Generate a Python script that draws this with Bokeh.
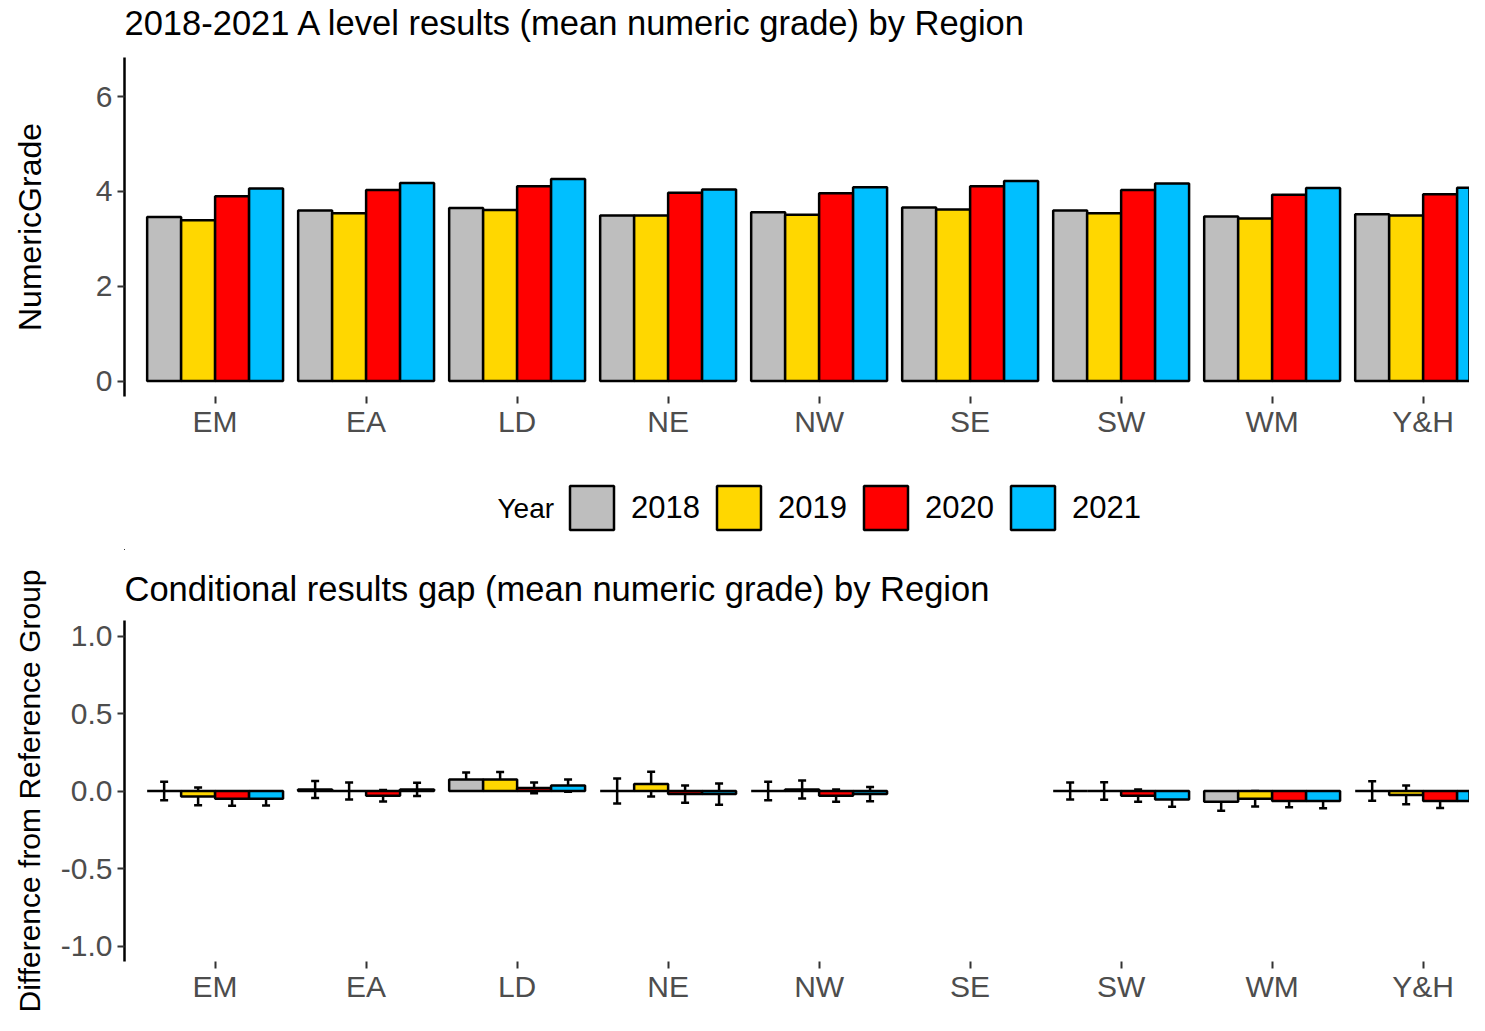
import math
from bokeh.plotting import figure
from bokeh.models import (ColumnDataSource, Range1d, FixedTicker, NumeralTickFormatter,
                          Whisker, TeeHead, Legend, LegendItem)
from bokeh.core.properties import value
from bokeh.layouts import column
from bokeh.embed import file_html
from bokeh.resources import INLINE

# ---------------- data ----------------
regions = ["EM", "EA", "LD", "NE", "NW", "SE", "SW", "WM", "Y&H"]
years = ["2018", "2019", "2020", "2021"]
colors = ["#BEBEBE", "#FFD700", "#FF0000", "#00BFFF"]

grade_2018 = [3.46, 3.60, 3.65, 3.49, 3.56, 3.66, 3.60, 3.47, 3.52]
grade_2019 = [3.39, 3.54, 3.61, 3.49, 3.51, 3.62, 3.54, 3.43, 3.49]
grade_2020 = [3.90, 4.03, 4.11, 3.97, 3.96, 4.11, 4.03, 3.93, 3.94]
grade_2021 = [4.06, 4.18, 4.26, 4.04, 4.09, 4.22, 4.17, 4.07, 4.08]

nan = float("nan")
gap_2018 = [0.00, 0.01, 0.075, 0.00, 0.00, nan, 0.00, -0.07, 0.00]
gap_2019 = [-0.035, 0.00, 0.075, 0.045, 0.01, nan, 0.00, -0.05, -0.025]
gap_2020 = [-0.05, -0.03, 0.02, -0.02, -0.03, nan, -0.03, -0.065, -0.065]
gap_2021 = [-0.05, 0.01, 0.035, -0.02, -0.02, nan, -0.055, -0.065, -0.065]

err_2018 = [0.060, 0.055, 0.045, 0.080, 0.060, nan, 0.055, 0.058, 0.063]
err_2019 = [0.057, 0.055, 0.048, 0.080, 0.058, nan, 0.057, 0.050, 0.060]
err_2020 = [0.045, 0.037, 0.035, 0.055, 0.040, nan, 0.040, 0.040, 0.045]
err_2021 = [0.043, 0.043, 0.040, 0.068, 0.046, nan, 0.046, 0.046, 0.045]

grades = [grade_2018, grade_2019, grade_2020, grade_2021]
gaps = [gap_2018, gap_2019, gap_2020, gap_2021]
errs = [err_2018, err_2019, err_2020, err_2021]

title_top = "2018-2021 A level results (mean numeric grade) by Region"
title_bottom = "Conditional results gap (mean numeric grade) by Region"
ylabel_top = "NumericGrade"
ylabel_bottom = "Difference from Reference Group"
legend_title = "Year"

# ---------------- style ----------------
FONT = "Liberation Sans"
W = 1469
LEFT = 124
HT, H1, HL, H2 = 57, 398, 95, 465
dodge_total = 0.9
bar_w = dodge_total / len(years)
xr = (0.4, 9.307)


def offset(j):
    return (j - (len(years) - 1) / 2) * bar_w


def strip(height):
    # axis-free strip; the column aligns its frame's left edge with the panels'
    # frames, so its x range is given in canvas pixels from LEFT to W
    s = figure(width=W, height=height, x_range=Range1d(LEFT, W),
               y_range=Range1d(0, height), toolbar_location=None,
               output_backend="svg", min_border=0, min_border_left=LEFT,
               min_border_right=0, x_axis_location=None, y_axis_location=None)
    s.xgrid.visible = False
    s.ygrid.visible = False
    s.outline_line_color = None
    return s


def style(p, ylabel, yticks, label_standoff, label_size):
    p.xgrid.visible = False
    p.ygrid.visible = False
    p.outline_line_color = None

    xa = p.xaxis[0]
    xa.ticker = FixedTicker(ticks=[i + 1 for i in range(len(regions))])
    xa.major_label_overrides = {i + 1: r for i, r in enumerate(regions)}
    xa.axis_line_color = None
    xa.major_tick_line_color = "#333333"
    xa.major_tick_line_width = 2
    xa.major_tick_out = 7
    xa.major_tick_in = 0
    xa.minor_tick_line_color = None
    xa.major_label_text_font = FONT
    xa.major_label_text_font_size = "30px"
    xa.major_label_text_color = "#4D4D4D"
    xa.major_label_standoff = 1

    ya = p.yaxis[0]
    ya.ticker = FixedTicker(ticks=yticks)
    ya.axis_line_color = "black"
    ya.axis_line_width = 2.5
    ya.major_tick_line_color = "#333333"
    ya.major_tick_line_width = 2
    ya.major_tick_out = 7
    ya.major_tick_in = 0
    ya.minor_tick_line_color = None
    ya.major_label_text_font = FONT
    ya.major_label_text_font_size = "30px"
    ya.major_label_text_color = "#4D4D4D"
    ya.major_label_standoff = 5
    ya.axis_label = ylabel
    ya.axis_label_text_font = FONT
    ya.axis_label_text_font_size = label_size
    ya.axis_label_text_font_style = "normal"
    ya.axis_label_text_color = "black"
    ya.axis_label_standoff = label_standoff


# ---------------- top title strip ----------------
pt = strip(HT)
pt.text(x=[LEFT], y=[HT - 22], text=[title_top], text_font=value(FONT),
        text_font_size="34.5px", text_color="black", text_baseline="middle",
        text_align="left")

# ---------------- top panel ----------------
p1 = figure(width=W, height=H1, title=None, x_range=Range1d(*xr),
            y_range=Range1d(-0.325, 6.825), toolbar_location=None,
            output_backend="svg", min_border_left=LEFT, min_border_right=0,
            min_border_top=0, min_border_bottom=59)
style(p1, ylabel_top, [0, 2, 4, 6], 45, "32px")

for j, yr in enumerate(years):
    src = ColumnDataSource(dict(
        x=[i + 1 + offset(j) for i in range(len(regions))],
        top=grades[j]))
    p1.vbar(x="x", top="top", bottom=0, width=bar_w, source=src,
            fill_color=colors[j], line_color="black", line_width=2.5)

# ---------------- legend strip ----------------
pl = strip(HL)
items = []
for j, yr in enumerate(years):
    # keyed renderer whose bar lies outside the strip; only its legend key shows
    r = pl.vbar(x=[-1000], top=[-1000], bottom=-1001, width=1, fill_color=colors[j],
                line_color="black", line_width=2.5)
    items.append(LegendItem(label=yr, renderers=[r]))
legend = Legend(items=items, orientation="horizontal", location=(564 - LEFT, 15),
                label_text_font=FONT, label_text_font_size="31px",
                label_text_color="black",
                glyph_width=55, glyph_height=55, label_standoff=12, spacing=11,
                padding=0, margin=0, border_line_color=None,
                background_fill_alpha=0)
pl.add_layout(legend, "center")
pl.text(x=[497], y=[42], text=[legend_title], text_font=value(FONT),
        text_font_size="28px", text_color="black", text_baseline="middle",
        text_align="left")

# ---------------- bottom panel ----------------
p2 = figure(width=W, height=H2, title=title_bottom, x_range=Range1d(*xr),
            y_range=Range1d(-1.1, 1.1), toolbar_location=None,
            output_backend="svg", min_border_left=LEFT, min_border_right=0,
            min_border_top=70, min_border_bottom=54)
style(p2, ylabel_bottom, [-1.0, -0.5, 0.0, 0.5, 1.0], 12, "30px")
p2.title.text_font = FONT
p2.title.text_font_size = "34.5px"
p2.title.text_font_style = "normal"
p2.title.text_color = "black"
p2.title.align = "left"
p2.title.offset = 0
p2.title.standoff = 25
p2.yaxis[0].formatter = NumeralTickFormatter(format="0.0")

for j, yr in enumerate(years):
    xs, tops, lo, hi = [], [], [], []
    for i in range(len(regions)):
        g = gaps[j][i]
        if math.isnan(g):
            continue
        xs.append(i + 1 + offset(j))
        tops.append(g)
        lo.append(g - errs[j][i])
        hi.append(g + errs[j][i])
    src = ColumnDataSource(dict(x=xs, top=tops, lower=lo, upper=hi))
    p2.vbar(x="x", top="top", bottom=0, width=bar_w, source=src,
            fill_color=colors[j], line_color="black", line_width=2.5)
    wk = Whisker(source=src, base="x", lower="lower", upper="upper",
                 dimension="height", line_color="black", line_width=2.5,
                 upper_head=TeeHead(size=8, line_color="black", line_width=2.5),
                 lower_head=TeeHead(size=8, line_color="black", line_width=2.5))
    p2.add_layout(wk)

layout = column(pt, p1, pl, p2)
open("out.html", "w").write(file_html(layout, INLINE))
